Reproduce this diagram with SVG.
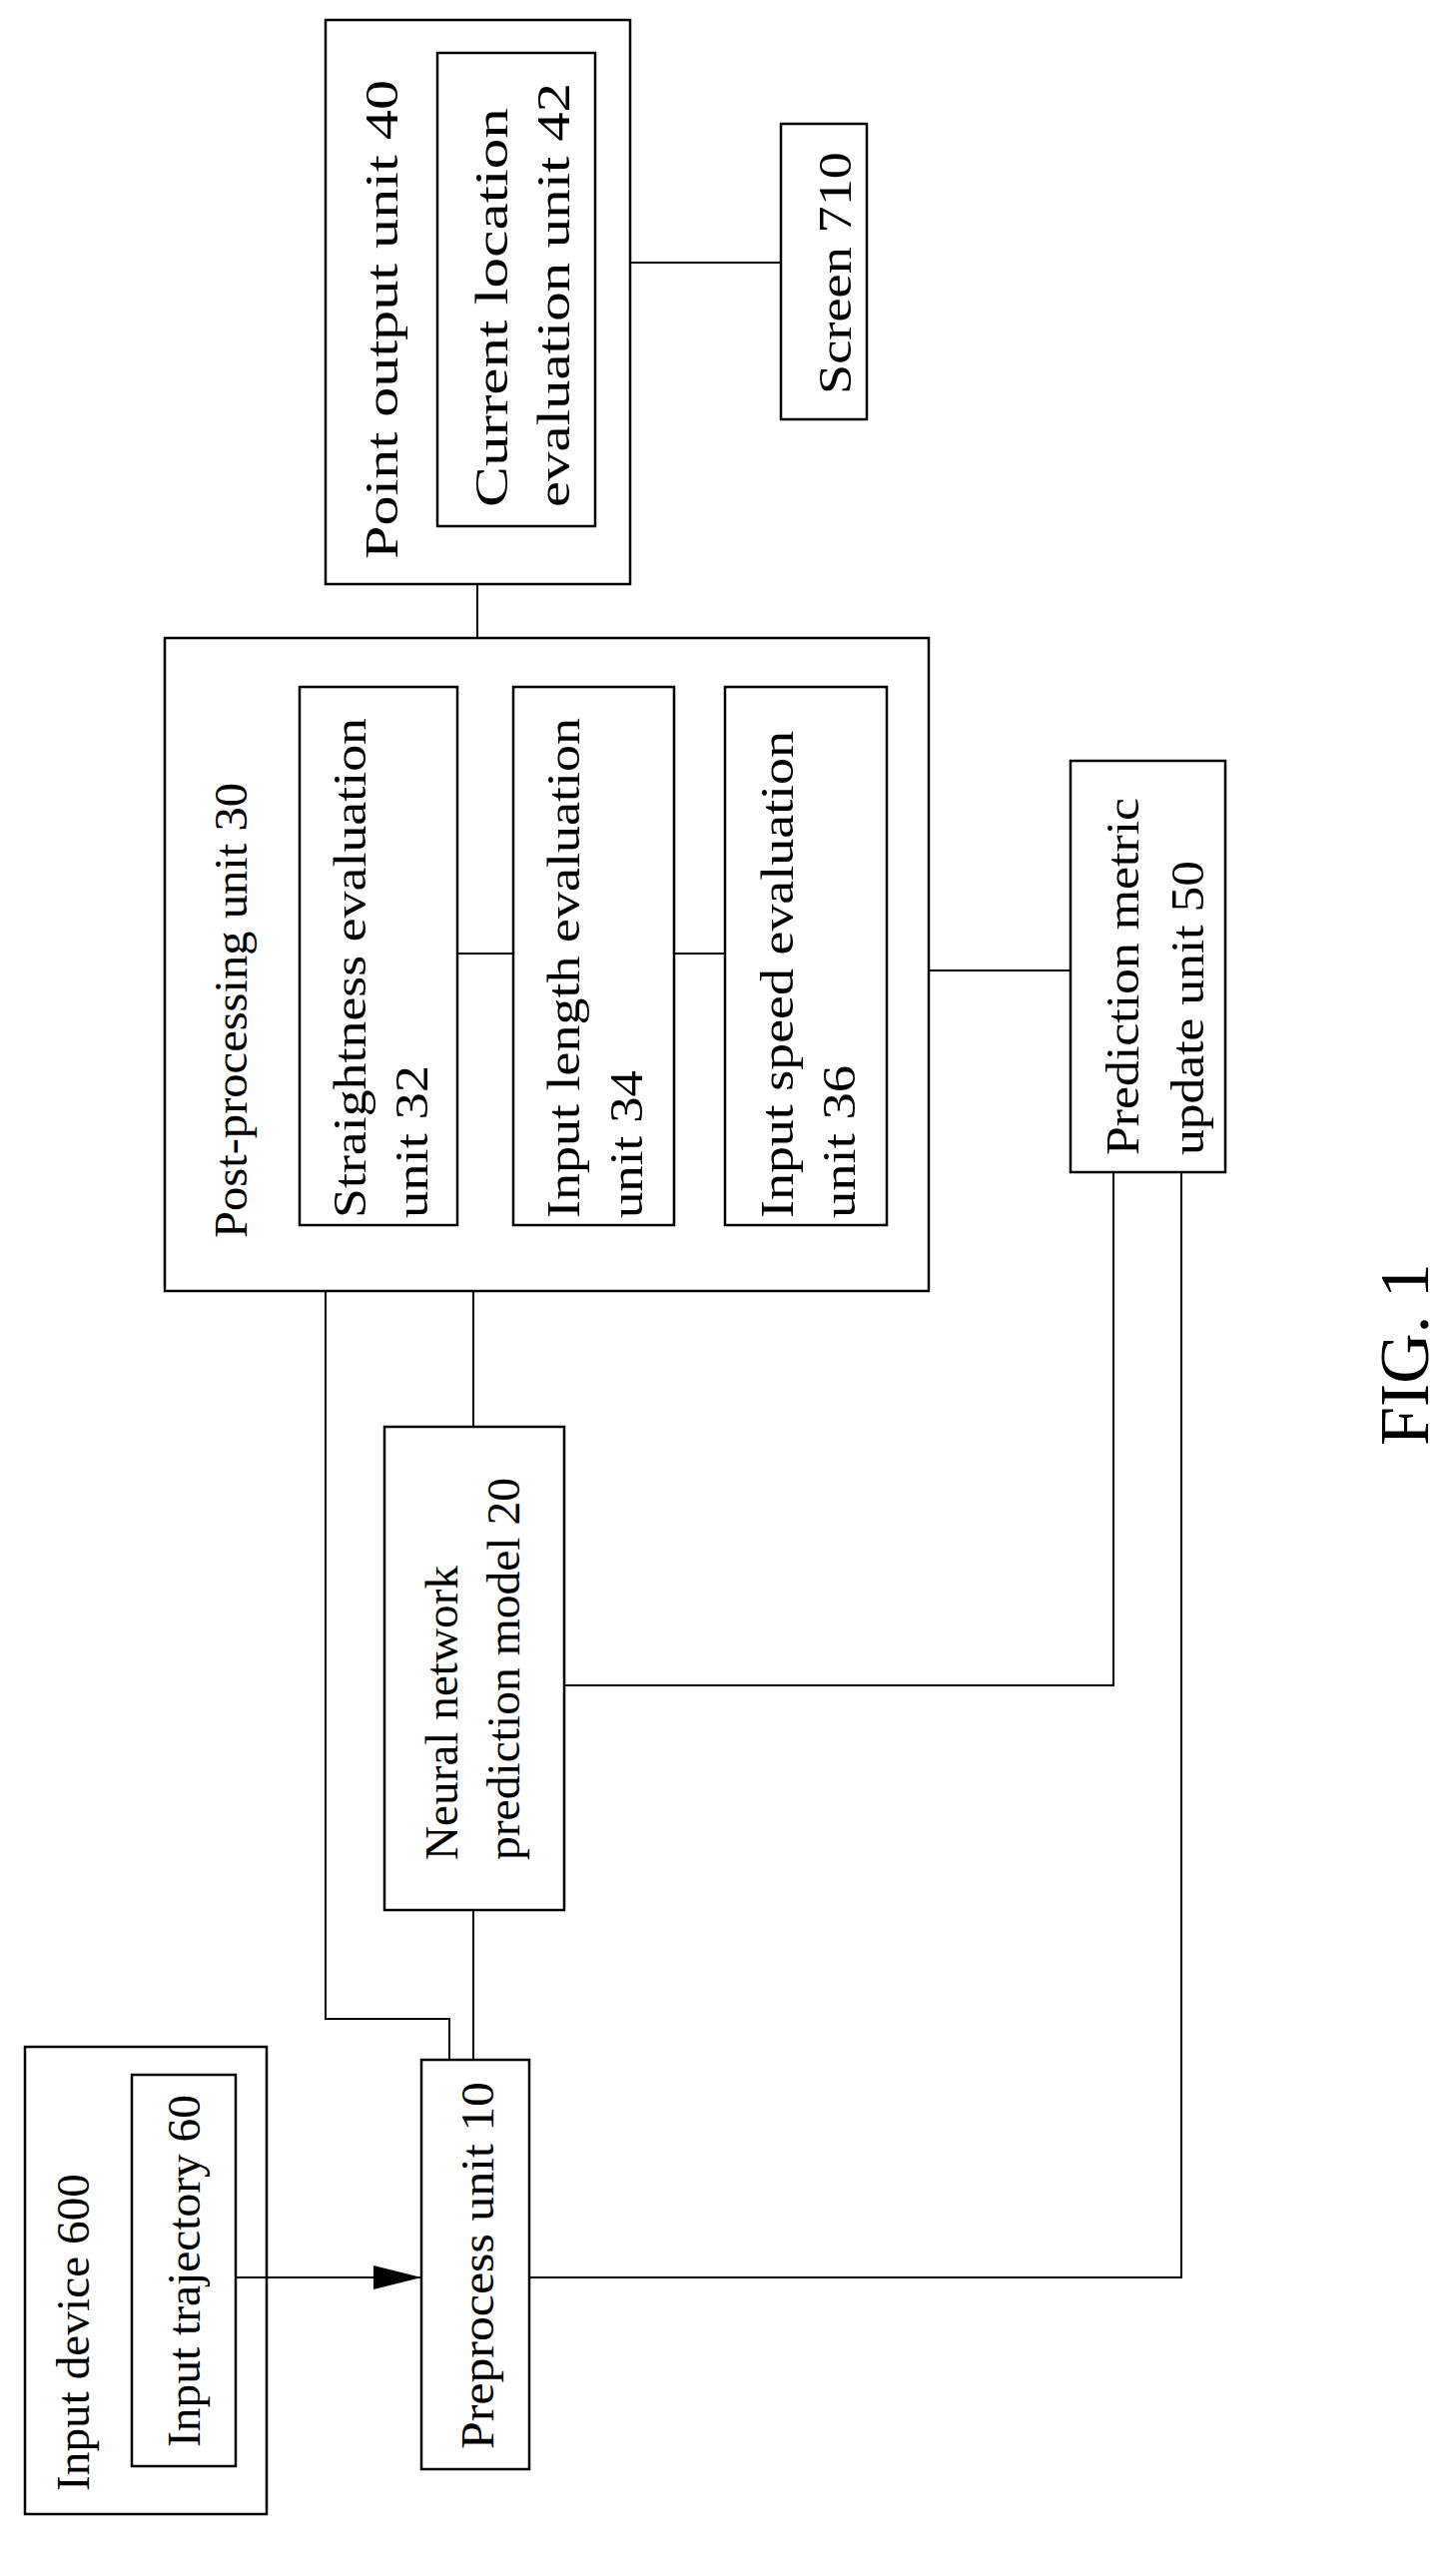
<svg xmlns="http://www.w3.org/2000/svg" width="1449" height="2580" viewBox="0 0 1449 2580">
<defs>
<style>
rect{fill:none;stroke:#000;stroke-width:2.5}
.c line,.c polyline{fill:none;stroke:#000;stroke-width:2}
text{font-family:"Liberation Serif",serif;font-size:46px;fill:#000}
</style>
<marker id="a2" viewBox="0 0 10 10" refX="10" refY="5" markerWidth="48" markerHeight="24" orient="auto" markerUnits="userSpaceOnUse" preserveAspectRatio="none"><path d="M0,0 L10,5 L0,10 z" fill="#000"/></marker>
</defs>
<g class="c" id="connectors">
<line x1="631" y1="263" x2="782" y2="263"/>
<line x1="478" y1="585" x2="478" y2="639"/>
<line x1="458" y1="955" x2="514" y2="955"/>
<line x1="675" y1="955" x2="726" y2="955"/>
<line x1="930" y1="972" x2="1072" y2="972"/>
<polyline points="326,1293 326,2022 450,2022 450,2063"/>
<line x1="474" y1="1293" x2="474" y2="1429"/>
<line x1="474" y1="1913" x2="474" y2="2063"/>
<polyline points="565,1688 1115,1688 1115,1174"/>
<polyline points="530,2281 1183,2281 1183,1174"/>
<line x1="236" y1="2281" x2="422" y2="2281" marker-end="url(#a2)"/>
</g>
<g id="n40"><rect x="326" y="20" width="305" height="565"/><text transform="translate(398,560) rotate(-90)" textLength="480" lengthAdjust="spacingAndGlyphs">Point output unit 40</text></g>
<g id="n42"><rect x="438" y="53" width="158" height="474"/><text transform="translate(508,508) rotate(-90)" textLength="400" lengthAdjust="spacingAndGlyphs">Current location</text><text transform="translate(570,508) rotate(-90)" textLength="425" lengthAdjust="spacingAndGlyphs">evaluation unit 42</text></g>
<g id="n710"><rect x="782" y="124" width="86" height="296"/><text transform="translate(852,395) rotate(-90)" textLength="243" lengthAdjust="spacingAndGlyphs">Screen 710</text></g>
<g id="n30"><rect x="165" y="639" width="765" height="654"/><text transform="translate(247,1240) rotate(-90)" textLength="456" lengthAdjust="spacingAndGlyphs">Post-processing unit 30</text></g>
<g id="n32"><rect x="300" y="688" width="158" height="539"/><text transform="translate(366,1220) rotate(-90)" textLength="501" lengthAdjust="spacingAndGlyphs">Straightness evaluation</text><text transform="translate(428,1220) rotate(-90)" textLength="153" lengthAdjust="spacingAndGlyphs">unit 32</text></g>
<g id="n34"><rect x="514" y="688" width="161" height="539"/><text transform="translate(580,1220) rotate(-90)" textLength="501" lengthAdjust="spacingAndGlyphs">Input length evaluation</text><text transform="translate(643,1220) rotate(-90)" textLength="148" lengthAdjust="spacingAndGlyphs">unit 34</text></g>
<g id="n36"><rect x="726" y="688" width="162" height="539"/><text transform="translate(794,1220) rotate(-90)" textLength="488" lengthAdjust="spacingAndGlyphs">Input speed evaluation</text><text transform="translate(856,1220) rotate(-90)" textLength="153" lengthAdjust="spacingAndGlyphs">unit 36</text></g>
<g id="n50"><rect x="1072" y="762" width="155" height="412"/><text transform="translate(1140,1157) rotate(-90)" textLength="358" lengthAdjust="spacingAndGlyphs">Prediction metric</text><text transform="translate(1205,1157) rotate(-90)" textLength="295" lengthAdjust="spacingAndGlyphs">update unit 50</text></g>
<g id="n20"><rect x="385" y="1429" width="180" height="484"/><text transform="translate(458,1863) rotate(-90)" textLength="295" lengthAdjust="spacingAndGlyphs">Neural network</text><text transform="translate(520,1863) rotate(-90)" textLength="383" lengthAdjust="spacingAndGlyphs">prediction model 20</text></g>
<g id="n10"><rect x="422" y="2063" width="108" height="410"/><text transform="translate(494,2453) rotate(-90)" textLength="368" lengthAdjust="spacingAndGlyphs">Preprocess unit 10</text></g>
<g id="n600"><rect x="25" y="2050" width="242" height="468"/><text transform="translate(89,2495) rotate(-90)" textLength="318" lengthAdjust="spacingAndGlyphs">Input device 600</text></g>
<g id="n60"><rect x="132" y="2078" width="104" height="392"/><text transform="translate(200,2451) rotate(-90)" textLength="353" lengthAdjust="spacingAndGlyphs">Input trajectory 60</text></g>
<text transform="translate(1430,1448) rotate(-90)" style="font-size:70px">FIG. 1</text>
</svg>
